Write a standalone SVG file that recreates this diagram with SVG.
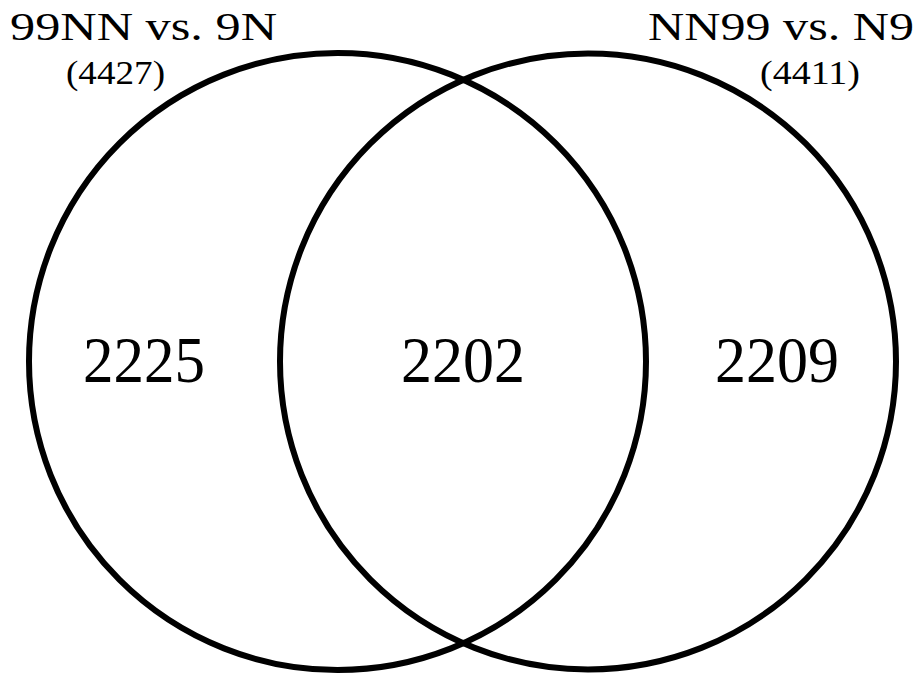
<svg xmlns="http://www.w3.org/2000/svg" width="920" height="675" viewBox="0 0 920 675">
<style>
.c{fill:none;stroke:#000;stroke-width:6}
.t{font-family:"Liberation Serif","Times New Roman",serif;fill:#000}
.n{font-size:65px;text-anchor:middle}
.h{font-size:41px}
.s{font-size:33px}
</style>
<rect width="920" height="675" fill="#fff"/>
<g id="setA"><circle class="c" cx="337.5" cy="361.5" r="308.5"/></g>
<g id="setB"><circle class="c" cx="588" cy="361.5" r="308"/></g>
<g id="labels">
<text class="t h" x="10" y="40" textLength="267" lengthAdjust="spacingAndGlyphs">99NN vs. 9N</text>
<text class="t s" x="66" y="84" textLength="99" lengthAdjust="spacingAndGlyphs">(4427)</text>
<text class="t h" x="648" y="40" textLength="266" lengthAdjust="spacingAndGlyphs">NN99 vs. N9</text>
<text class="t s" x="760" y="84" textLength="100" lengthAdjust="spacingAndGlyphs">(4411)</text>
<text class="t n" x="144" y="382" textLength="122" lengthAdjust="spacingAndGlyphs">2225</text>
<text class="t n" x="463" y="382" textLength="124" lengthAdjust="spacingAndGlyphs">2202</text>
<text class="t n" x="777" y="382" textLength="124" lengthAdjust="spacingAndGlyphs">2209</text>
</g>
</svg>
